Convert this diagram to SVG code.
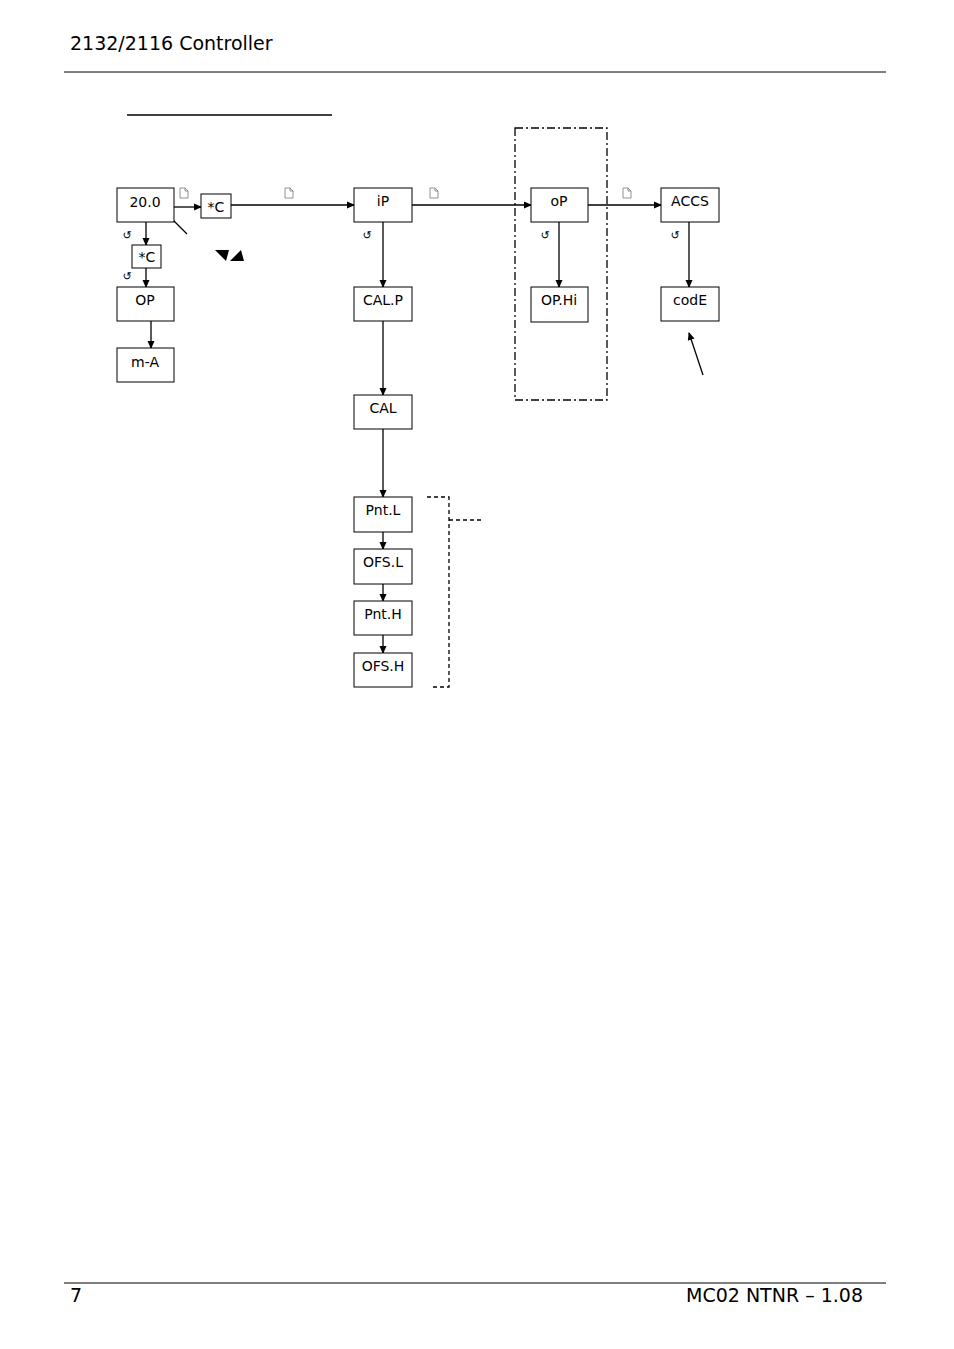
<svg xmlns="http://www.w3.org/2000/svg" width="954" height="1349" viewBox="0 0 954 1349">
<style>
.b{fill:#fff;stroke:#000;stroke-width:1}
.t{font-family:"DejaVu Sans",sans-serif;font-size:14px;text-anchor:middle}
.c{stroke:#000;stroke-width:1.3;fill:none}
.pg{fill:#fff;stroke:#777;stroke-width:0.8}
.r{font-family:"DejaVu Sans",sans-serif;font-size:11px;text-anchor:middle}
.h{font-family:"DejaVu Sans",sans-serif;font-size:19px}
</style>
<defs>
<marker id="a" markerWidth="8" markerHeight="8" refX="7" refY="4" orient="auto" markerUnits="userSpaceOnUse"><path d="M0,0.5L8,4L0,7.5z"/></marker>
<path id="p" d="M0,0H5L8,3V10H0Z M5,0V3H8"/>
</defs>
<rect width="954" height="1349" fill="#fff"/>
<text class="h" x="70" y="50">2132/2116 Controller</text>
<line x1="64" y1="72" x2="886" y2="72" stroke="#000"/>
<line x1="127" y1="115" x2="332" y2="115" stroke="#000" stroke-width="1.5"/>
<line x1="64" y1="1283" x2="886" y2="1283" stroke="#000"/>
<text class="h" x="70" y="1302">7</text>
<text class="h" x="863" y="1302" text-anchor="end">MC02 NTNR – 1.08</text>
<rect x="515" y="128" width="92" height="272" fill="none" stroke="#000" stroke-width="1.3" stroke-dasharray="8,3,2,3"/>
<path d="M427,497H449V687H430M449,520H483" fill="none" stroke="#000" stroke-width="1.3" stroke-dasharray="4,3"/>
<g id="connectors">
<path class="c" marker-end="url(#a)" d="M174,207H201"/>
<path class="c" marker-end="url(#a)" d="M231,205H354"/>
<path class="c" marker-end="url(#a)" d="M412,205H531"/>
<path class="c" marker-end="url(#a)" d="M588,205H661"/>
<path class="c" marker-end="url(#a)" d="M146,222V245"/>
<path class="c" marker-end="url(#a)" d="M146,268V287"/>
<path class="c" marker-end="url(#a)" d="M151,321V348"/>
<path class="c" marker-end="url(#a)" d="M383,222V287"/>
<path class="c" marker-end="url(#a)" d="M383,321V395"/>
<path class="c" marker-end="url(#a)" d="M383,429V497"/>
<path class="c" marker-end="url(#a)" d="M383,532V549"/>
<path class="c" marker-end="url(#a)" d="M383,584V601"/>
<path class="c" marker-end="url(#a)" d="M383,635V653"/>
<path class="c" marker-end="url(#a)" d="M559,222V287"/>
<path class="c" marker-end="url(#a)" d="M689,222V287"/>
<path class="c" marker-end="url(#a)" d="M187,234L165,212"/>
<path class="c" marker-end="url(#a)" d="M703,375L689,333"/>
</g>
<use href="#p" class="pg" x="180" y="188"/>
<use href="#p" class="pg" x="285" y="188"/>
<use href="#p" class="pg" x="430" y="188"/>
<use href="#p" class="pg" x="623" y="188"/>
<text class="r" x="127" y="239">↺</text>
<text class="r" x="127" y="280">↺</text>
<text class="r" x="367" y="239">↺</text>
<text class="r" x="545" y="239">↺</text>
<text class="r" x="675" y="239">↺</text>
<polygon points="215,250 229,250 226,261"/>
<polygon points="230,261 244,261 241,250"/>
<g id="n200"><rect class="b" x="117" y="188" width="57" height="34"/><text class="t" x="145" y="207">20.0</text></g>
<g id="nC1"><rect class="b" x="201" y="194" width="30" height="24"/><text class="t" x="216" y="212">*C</text></g>
<g id="nC2"><rect class="b" x="132" y="245" width="29" height="23"/><text class="t" x="147" y="262" font-size="13">*C</text></g>
<g id="nOP"><rect class="b" x="117" y="287" width="57" height="34"/><text class="t" x="145" y="305">OP</text></g>
<g id="nmA"><rect class="b" x="117" y="348" width="57" height="34"/><text class="t" x="145" y="367">m-A</text></g>
<g id="niP"><rect class="b" x="354" y="188" width="58" height="34"/><text class="t" x="383" y="206">iP</text></g>
<g id="nCALP"><rect class="b" x="354" y="287" width="58" height="34"/><text class="t" x="383" y="305">CAL.P</text></g>
<g id="nCAL"><rect class="b" x="354" y="395" width="58" height="34"/><text class="t" x="383" y="413">CAL</text></g>
<g id="nPntL"><rect class="b" x="354" y="497" width="58" height="35"/><text class="t" x="383" y="515">Pnt.L</text></g>
<g id="nOFSL"><rect class="b" x="354" y="549" width="58" height="35"/><text class="t" x="383" y="567">OFS.L</text></g>
<g id="nPntH"><rect class="b" x="354" y="601" width="58" height="34"/><text class="t" x="383" y="619">Pnt.H</text></g>
<g id="nOFSH"><rect class="b" x="354" y="653" width="58" height="34"/><text class="t" x="383" y="671">OFS.H</text></g>
<g id="noP"><rect class="b" x="531" y="188" width="57" height="34"/><text class="t" x="559" y="206">oP</text></g>
<g id="nOPHi"><rect class="b" x="531" y="287" width="57" height="35"/><text class="t" x="559" y="305">OP.Hi</text></g>
<g id="nACCS"><rect class="b" x="661" y="188" width="58" height="34"/><text class="t" x="690" y="206">ACCS</text></g>
<g id="ncodE"><rect class="b" x="661" y="287" width="58" height="34"/><text class="t" x="690" y="305">codE</text></g>
</svg>
